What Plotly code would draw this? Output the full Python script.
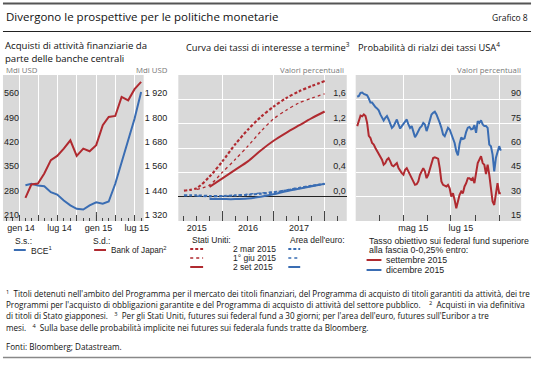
import plotly.graph_objects as go
import pandas as pd

W, H = 540, 371
RED = "#b02a30"
BLUE = "#3a6db3"
GRAY_BG = "#d9d9d9"

# ---------------- Data ----------------
# Left panel: central bank asset purchases (month-end)
cb_dates = ["2014-01-31", "2014-02-28", "2014-03-31", "2014-04-30", "2014-05-31",
            "2014-06-30", "2014-07-31", "2014-08-31", "2014-09-30", "2014-10-31",
            "2014-11-30", "2014-12-31", "2015-01-31", "2015-02-28", "2015-03-31",
            "2015-04-30", "2015-05-31", "2015-06-30", "2015-07-31"]
bce = [313, 317, 312, 310, 293, 286, 269, 255, 245, 243, 255, 264, 260, 266,
       317, 379, 442, 504, 581]
boj = [1434, 1500, 1505, 1554, 1620, 1641, 1677, 1718, 1641, 1677, 1664, 1694,
       1792, 1833, 1838, 1932, 1915, 1970, 2006]
left_ticks_l = [210, 280, 350, 420, 490, 560]
left_ticks_r = [1320, 1440, 1560, 1680, 1800, 1920]
left_xticks = ["2014-01-01", "2014-04-01", "2014-07-01", "2014-10-01",
               "2015-01-01", "2015-04-01", "2015-07-01"]
left_xlabels = ["gen 14", "", "lug 14", "", "gen 15", "", "lug 15"]

# Middle panel: forward curves (quarterly contract dates)
fwd_dates = ["2015-04-01", "2015-07-01", "2015-10-01", "2016-01-01", "2016-04-01",
             "2016-07-01", "2016-10-01", "2017-01-01", "2017-04-01", "2017-07-01",
             "2017-10-01", "2018-01-01"]
us_mar = [0.10, 0.14, 0.33, 0.58, 0.86, 1.10, 1.31, 1.48, 1.62, 1.73, 1.82, 1.90]
us_jun = [0.12, 0.19, 0.40, 0.61, 0.83, 1.07, 1.28, 1.42, 1.54, 1.62, 1.69]
us_sep = [0.16, 0.30, 0.44, 0.58, 0.76, 0.92, 1.05, 1.17, 1.29, 1.40]
ea_mar = [0.02, 0.02, 0.01, 0.01, 0.02, 0.03, 0.05, 0.07, 0.10, 0.14, 0.18, 0.21]
ea_jun = [0.01, 0.00, 0.01, 0.02, 0.04, 0.06, 0.08, 0.11, 0.15, 0.18, 0.21]
ea_sep = [-0.04, -0.04, -0.04, -0.03, 0.00, 0.04, 0.09, 0.13, 0.17, 0.21]
mid_yticks = [0.0, 0.4, 0.8, 1.2, 1.6]

# Right panel: probability of US rate hike
prob_sep = [73.5, 77.0, 80.0, 79.5, 80.7, 79.7, 75.5, 67.5, 66.2, 63.1, 62.1, 60.0,
            58.0, 55.9, 54.9, 52.8, 49.7, 50.7, 52.8, 53.8, 51.8, 49.3, 48.7, 49.7,
            50.7, 47.6, 45.6, 44.5, 43.5, 46.6, 47.6, 45.6, 43.5, 41.4, 39.4, 37.3,
            37.7, 39.4, 43.5, 45.6, 47.6, 45.6, 41.4, 43.5, 46.6, 50.7, 53.8, 54.3,
            53.8, 53.4, 47.6, 39.4, 37.3, 36.9, 36.3, 37.3, 35.2, 30.1, 32.1, 28.0,
            22.9, 27.0, 31.1, 33.2, 32.1, 36.3, 38.3, 41.4, 41.4, 40.4, 41.4, 38.3,
            45.6, 50.7, 52.8, 54.9, 50.7, 49.7, 44.0, 49.7, 43.5, 33.2, 27.0, 24.9,
            32.1, 38.3, 32.1, 32.1]
prob_dec = [91.6, 92.1, 94.0, 94.2, 93.3, 93.1, 92.5, 90.5, 88.0, 88.0, 86.5, 85.2,
            84.4, 83.2, 80.7, 79.0, 77.0, 78.6, 79.7, 77.6, 75.5, 72.4, 73.5, 75.5,
            77.6, 74.5, 72.0, 73.5, 74.9, 76.2, 77.6, 74.5, 72.4, 73.5, 70.4, 66.7,
            68.3, 70.4, 72.4, 73.5, 75.5, 74.5, 70.4, 73.5, 76.6, 80.7, 81.7, 82.4,
            80.7, 78.6, 75.5, 72.4, 68.3, 67.3, 70.4, 72.4, 71.4, 68.3, 66.2, 63.1,
            58.0, 55.5, 62.5, 66.5, 65.5, 66.0, 70.0, 72.5, 73.0, 71.5, 71.8, 74.0,
            69.3, 76.6, 75.5, 77.0, 74.5, 73.5, 73.5, 72.4, 62.1, 61.1, 55.9, 45.6,
            53.8, 58.0, 61.1, 58.4]
prob_dates = pd.date_range("2015-03-03", "2015-09-03", periods=len(prob_dec))
right_yticks = [15, 30, 45, 60, 75, 90]
right_xticks = ["2015-05-01", "2015-07-01", "2015-09-01"]
right_xlabels = ["mag 15", "lug 15", ""]

# ---------------- helpers (layout pixel -> paper) ----------------
def px(x):
    return x / W

def py(y):
    return 1 - y / H

TICKFONT = dict(family="Liberation Sans", size=9, color="#222")
SEGOE = "Open Sans"

fig = go.Figure()

# Left panel traces
fig.add_trace(go.Scatter(x=cb_dates, y=bce, xaxis="x", yaxis="y", mode="lines",
                         line=dict(color=BLUE, width=2), showlegend=False))
fig.add_trace(go.Scatter(x=cb_dates, y=boj, xaxis="x", yaxis="y2", mode="lines",
                         line=dict(color=RED, width=2), showlegend=False))

# Middle panel traces
mid_series = [
    (us_mar, RED, "3px,2px", 2.2),
    (us_jun, RED, "dot", 1.3),
    (us_sep, RED, "solid", 2),
    (ea_mar, BLUE, "3px,2px", 2.2),
    (ea_jun, BLUE, "dot", 1.3),
    (ea_sep, BLUE, "solid", 2),
]
for vals, col, dash, wdt in mid_series:
    fig.add_trace(go.Scatter(x=fwd_dates[len(fwd_dates) - len(vals):], y=vals,
                             xaxis="x2", yaxis="y3", mode="lines",
                             line=dict(color=col, width=wdt, dash=dash, shape="spline",
                                       smoothing=0.8),
                             showlegend=False))

# Right panel traces
fig.add_trace(go.Scatter(x=prob_dates, y=prob_sep, xaxis="x3", yaxis="y4", mode="lines",
                         line=dict(color=RED, width=2), showlegend=False))
fig.add_trace(go.Scatter(x=prob_dates, y=prob_dec, xaxis="x3", yaxis="y4", mode="lines",
                         line=dict(color=BLUE, width=2), showlegend=False))

ydom = [py(221), py(75)]
common_x = dict(type="date", showline=False, zeroline=False, ticks="inside",
                tickcolor="#444", tickwidth=1, tickfont=TICKFONT,
                showgrid=True, gridcolor="white", gridwidth=1, fixedrange=True)
common_y = dict(domain=ydom, showline=False, zeroline=False, ticks="",
                tickfont=TICKFONT, fixedrange=True)

layout = dict(
    width=W, height=H, margin=dict(l=0, r=0, t=0, b=0),
    paper_bgcolor="white", plot_bgcolor=GRAY_BG, separators=", ",
    showlegend=False, hovermode=False,
    xaxis=dict(common_x, domain=[px(3), px(145)], anchor="y",
               range=["2013-10-17", "2015-08-12"], tickmode="array",
               tickvals=left_xticks, ticktext=left_xlabels, ticklen=6,
               ticklabelshift=2,
               minor=dict(dtick="M1", tick0="2014-01-01", ticks="inside", ticklen=3,
                          tickcolor="#444", showgrid=False)),
    # labels drawn "outside" a free axis placed on the panel's left edge -> inside the panel
    yaxis=dict(common_y, anchor="free", position=px(3), side="right", range=[210, 630],
               tickmode="array", tickvals=left_ticks_l,
               ticklabelposition="outside top", showgrid=False),
    yaxis2=dict(common_y, anchor="x", overlaying="y", side="right", range=[1320, 2040],
                tickmode="array", tickvals=left_ticks_r, tickformat=",d",
                ticklabelposition="outside top", showgrid=False),
    xaxis2=dict(common_x, domain=[px(180), px(350)], anchor="y3",
                range=["2015-02-20", "2018-06-08"], dtick="M12", tick0="2015-01-01",
                tickformat="%Y", ticklabelmode="period", ticklen=10,
                minor=dict(dtick="M3", tick0="2015-01-01", ticks="inside", ticklen=5,
                           tickcolor="#444", showgrid=False)),
    yaxis3=dict(common_y, anchor="free", position=px(349), side="left",
                range=[-0.4, 2.0], tickmode="array", tickvals=mid_yticks,
                tickformat=".1f", ticklabelposition="outside top", showgrid=True,
                gridcolor="white", zeroline=True, zerolinecolor="#222",
                zerolinewidth=1),
    xaxis3=dict(common_x, domain=[px(359), px(526)], anchor="y4",
                range=["2015-03-01", "2015-09-29"], tickmode="array",
                tickvals=right_xticks, ticktext=right_xlabels, ticklen=6,
                ticklabelshift=10,
                minor=dict(dtick="M1", tick0="2015-04-01", ticks="inside", ticklen=6,
                           tickcolor="#444", showgrid=False)),
    yaxis4=dict(common_y, anchor="free", position=px(526), side="left",
                range=[15, 105], tickmode="array", tickvals=right_yticks,
                ticklabelposition="outside top", showgrid=True, gridcolor="white"),
)
fig.update_layout(**layout)

shapes = []
# frame lines
shapes.append(dict(type="line", xref="paper", yref="paper", x0=px(3), x1=px(536),
                   y0=py(3.5), y1=py(3.5), line=dict(color="#555", width=2)))
shapes.append(dict(type="line", xref="paper", yref="paper", x0=px(3), x1=px(536),
                   y0=py(31.5), y1=py(31.5), line=dict(color="#222", width=1)))
shapes.append(dict(type="line", xref="paper", yref="paper", x0=px(3), x1=px(536),
                   y0=py(357.5), y1=py(357.5), line=dict(color="#888", width=1.5)))
# taller year tick on left panel
shapes.append(dict(type="line", xref="x", yref="y domain", x0="2015-01-01",
                   x1="2015-01-01", y0=0, y1=9 / 146, line=dict(color="#444", width=1)))

annotations = []

def txt(x, y, s, size=9, family="Liberation Sans", color="#222", xanchor="left",
        yanchor="middle"):
    annotations.append(dict(x=px(x), y=py(y), xref="paper", yref="paper", text=s,
                            showarrow=False, xanchor=xanchor, yanchor=yanchor,
                            font=dict(size=size, family=family, color=color)))

def swatch(x0, x1, y, color, dash="solid", width=2):
    shapes.append(dict(type="line", xref="paper", yref="paper", x0=px(x0), x1=px(x1),
                       y0=py(y), y1=py(y), line=dict(color=color, dash=dash, width=width)))

# Titles
txt(4, 16.5, "Divergono le prospettive per le politiche monetarie", size=11.5,
    family=SEGOE, color="#111")
txt(535, 17, "Grafico 8", size=8.5, family=SEGOE, color="#111", xanchor="right")
txt(3, 46, "Acquisti di attività finanziarie da", size=9.6, family=SEGOE, color="#111")
txt(3, 58, "parte delle banche centrali", size=9.6, family=SEGOE, color="#111")
txt(186, 46.5, "Curva dei tassi di interesse a termine<sup>3</sup>", size=9.3,
    family=SEGOE, color="#111")
txt(359, 46.5, "Probabilità di rialzi dei tassi USA<sup>4</sup>", size=9.3,
    family=SEGOE, color="#111")
# units
txt(4, 70, "Mdi USD", size=7.8, family=SEGOE, color="#777")
txt(172, 70, "Mdi USD", size=7.8, family=SEGOE, color="#777", xanchor="right")
txt(349, 69.5, "Valori percentuali", size=7.8, family=SEGOE, color="#777", xanchor="right")
txt(528, 69.5, "Valori percentuali", size=7.8, family=SEGOE, color="#777", xanchor="right")

# Left legend
txt(13, 240.5, "S.s.:", size=8.5)
swatch(14, 26, 250, BLUE)
txt(29, 250, "BCE<sup>1</sup>", size=8.5)
txt(92, 240.5, "S.d.:", size=8.5)
swatch(95, 107, 250, RED)
txt(110, 250, "Bank of Japan<sup>2</sup>", size=8.2)

# Middle legend
txt(192, 240, "Stati Uniti:", size=8.5)
txt(291, 240, "Area dell'euro:", size=8.5)
mid_labels = ["2 mar 2015", "1° giu 2015", "2 set 2015"]
mid_dash = ["3px,2px", "dot", "solid"]
mid_w = [2, 1.3, 2]
for i, lab in enumerate(mid_labels):
    yy = 249 + i * 9
    swatch(192, 205, yy, RED, mid_dash[i], mid_w[i])
    swatch(291, 303, yy, BLUE, mid_dash[i], mid_w[i])
    txt(233, yy, lab, size=8.5)

# Right legend
txt(370, 240.5, "Tasso obiettivo sui federal fund superiore", size=8.8)
txt(370, 250.5, "alla fascia 0-0,25% entro:", size=8.8)
swatch(370, 385, 260, RED)
txt(388, 260, "settembre 2015", size=8.8)
swatch(370, 385, 270, BLUE)
txt(388, 270, "dicembre 2015", size=8.8)

# Footnotes
NB = "\u00a0"
foot = [
    "<sup>1</sup>" + NB * 2 + "Titoli detenuti nell'ambito del Programma per il mercato dei titoli finanziari, del Programma di acquisto di titoli garantiti da attività, dei tre",
    "Programmi per l'acquisto di obbligazioni garantite e del Programma di acquisto di attività del settore pubblico." + NB * 4 + "<sup>2</sup>" + NB * 2 + "Acquisti in via definitiva",
    "di titoli di Stato giapponesi." + NB * 3 + "<sup>3</sup>" + NB * 2 + "Per gli Stati Uniti, futures sui federal fund a 30 giorni; per l'area dell'euro, futures sull'Euribor a tre",
    "mesi." + NB * 3 + "<sup>4</sup>" + NB * 2 + "Sulla base delle probabilità implicite nei futures sui federala funds tratte da Bloomberg.",
]
foot_y = [293.3, 304.5, 315.8, 327.2]
for s, yy in zip(foot, foot_y):
    txt(4, yy, s, size=8.1, family=SEGOE, color="#111")
txt(4, 346, "Fonti: Bloomberg; Datastream.", size=8.1, family=SEGOE, color="#111")

fig.update_layout(shapes=shapes, annotations=annotations)
fig.write_html("out.html", config={"displayModeBar": False, "staticPlot": True},
               post_script="document.body.style.margin='0';document.body.style.padding='0';")
